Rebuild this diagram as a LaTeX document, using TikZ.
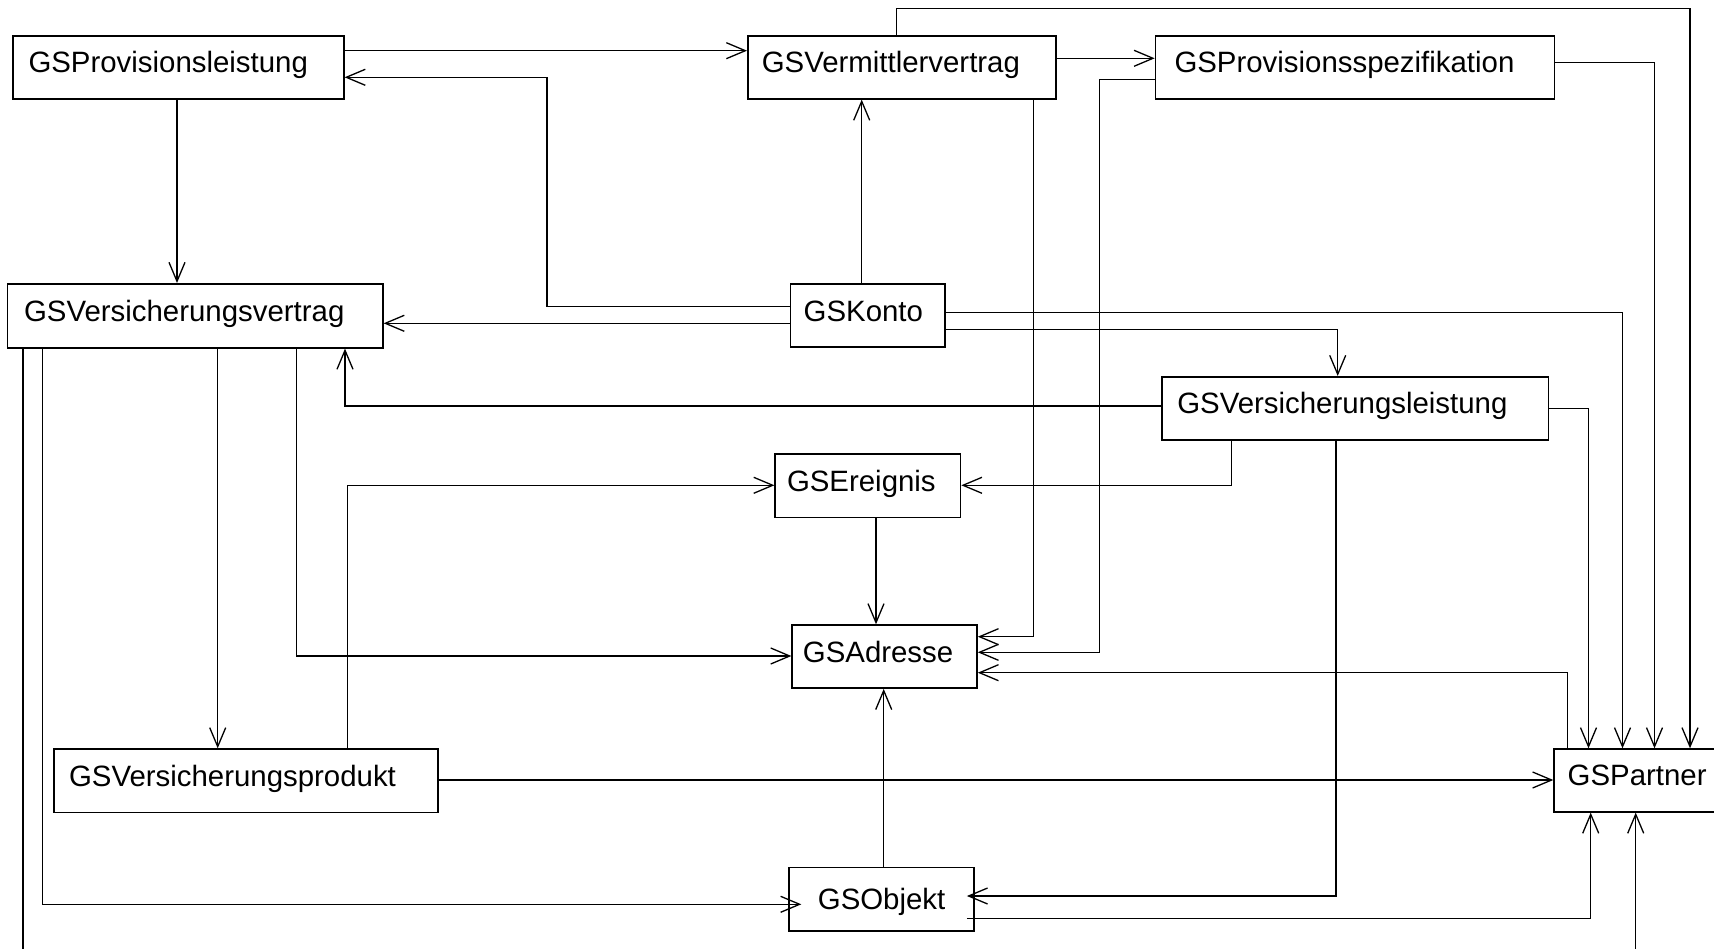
\documentclass[tikz,border=0pt]{standalone}
\usepackage{fontspec}
\setmainfont{Liberation Sans}
\usetikzlibrary{arrows.meta}

\tikzset{
  cls/.style={draw, line width=1.6pt, anchor=north west, inner ysep=0pt,
    align=left, text height=20pt, text depth=9pt,
    font=\fontsize{29.4}{34}\selectfont},
  assoc/.style={line width=1.3pt, line join=miter,
    -{Straight Barb[length=19pt,width=16pt]}},
}

\begin{document}
\begin{tikzpicture}[x=1pt,y=-1pt]
\useasboundingbox (0,0) rectangle (1714,949);
\clip (0,0) rectangle (1714,949);
\fill[white] (0,0) rectangle (1714,949);

% classes
\node[cls, minimum width=331pt, minimum height=63pt, inner xsep=15.7pt, text width=299.6pt]
  (prov) at (12,35) {GSProvisionsleistung};
\node[cls, minimum width=308pt, minimum height=63pt, inner xsep=14pt, text width=280pt]
  (verm) at (747,35) {GSVermittlervertrag};
\node[cls, minimum width=399pt, minimum height=63.3pt, inner xsep=19pt, text width=361pt]
  (spez) at (1154.7,35) {GSProvisionsspezifikation};
\node[cls, minimum width=375.4pt, minimum height=64pt, inner xsep=16.7pt, text width=342pt]
  (vv) at (6.6,283) {GSVersicherungsvertrag};
\node[cls, minimum width=154.3pt, minimum height=63pt, inner xsep=13.2pt, text width=127.9pt]
  (konto) at (789.7,283.3) {GSKonto};
\node[cls, minimum width=386.3pt, minimum height=63.3pt, inner xsep=15.2pt, text width=355.9pt]
  (vl) at (1161.3,376) {GSVersicherungsleistung};
\node[cls, minimum width=185.3pt, minimum height=63.4pt, inner xsep=11.8pt, text width=161.7pt]
  (ereig) at (774.4,453.3) {GSEreignis};
\node[cls, minimum width=184.8pt, minimum height=63pt, inner xsep=10.7pt, text width=163.4pt]
  (adr) at (791.4,624.3) {GSAdresse};
\node[cls, minimum width=383.9pt, minimum height=63.4pt, inner xsep=15.1pt, text width=353.7pt]
  (vp) at (53.2,748.3) {GSVersicherungsprodukt};
\node[cls, minimum width=190pt, minimum height=62.7pt, inner xsep=13.6pt, text width=162.8pt]
  (partner) at (1553.3,748.3) {GSPartner};
\node[cls, minimum width=185pt, minimum height=63.3pt, inner xsep=0pt, align=center,
  text height=21pt, text depth=0pt]
  (obj) at (788.3,866.7) {GSObjekt};

% associations
\draw[assoc] (prov.east |- 0,50.7) -- (verm.west |- 0,50.7);
\draw[assoc] (konto.west |- 0,306.7) -| (547,77.3) -- (prov.east |- 0,77.3);
\draw[assoc] (prov.south -| 177,0) -- (vv.north -| 177,0);
\draw[assoc] (konto.west |- 0,323.3) -- (vv.east |- 0,323.3);
\draw[assoc] (konto.north -| 861.7,0) -- (verm.south -| 861.7,0);
\draw[assoc] (verm.east |- 0,58.3) -- (spez.west |- 0,58.3);
\draw[assoc] (verm.north -| 896.8,0) |- (1690,8.3) -- (partner.north -| 1690,0);
\draw[assoc] (spez.east |- 0,62.3) -| (partner.north -| 1654.5,0);
\draw[assoc] (spez.west |- 0,79.3) -| (1099.6,652.3) -- (adr.east |- 0,652.3);
\draw[assoc] (verm.south -| 1033.5,0) |- (adr.east |- 0,636.7);
\draw[assoc] (konto.east |- 0,312.7) -| (partner.north -| 1622.5,0);
\draw[assoc] (konto.east |- 0,329.3) -| (vl.north -| 1337.7,0);
\draw[assoc] (vl.west |- 0,406) -| (vv.south -| 345,0);
\draw[assoc] (vl.east |- 0,408.3) -| (partner.north -| 1588.5,0);
\draw[assoc] (vl.south -| 1231.3,0) |- (ereig.east |- 0,485.3);
\draw[assoc] (vl.south -| 1336,0) |- ([xshift=-8pt]obj.east |- 0,896);
\draw[assoc] (ereig.south -| 876,0) -- (adr.north -| 876,0);
\draw[assoc] (vp.north -| 347.7,0) |- (ereig.west |- 0,485.3);
\draw[assoc] (vv.south -| 296.2,0) |- (adr.west |- 0,656);
\draw[assoc] (vv.south -| 217.7,0) -- (vp.north -| 217.7,0);
\draw[assoc] (vv.south -| 42.8,0) |- ([xshift=13pt]obj.west |- 0,904.3);
\draw[assoc] (vv.south -| 23,0) -- (23,975) -| (partner.south -| 1635.7,0);
\draw[assoc] (vp.east |- 0,780) -- (partner.west |- 0,780);
\draw[assoc] (partner.north -| 1567.7,0) |- (adr.east |- 0,672.7);
\draw[assoc] (obj.north -| 883.7,0) -- (adr.south -| 883.7,0);
\draw[assoc] ([xshift=-8pt]obj.east |- 0,918.3) -| (partner.south -| 1590.7,0);
\end{tikzpicture}
\end{document}
